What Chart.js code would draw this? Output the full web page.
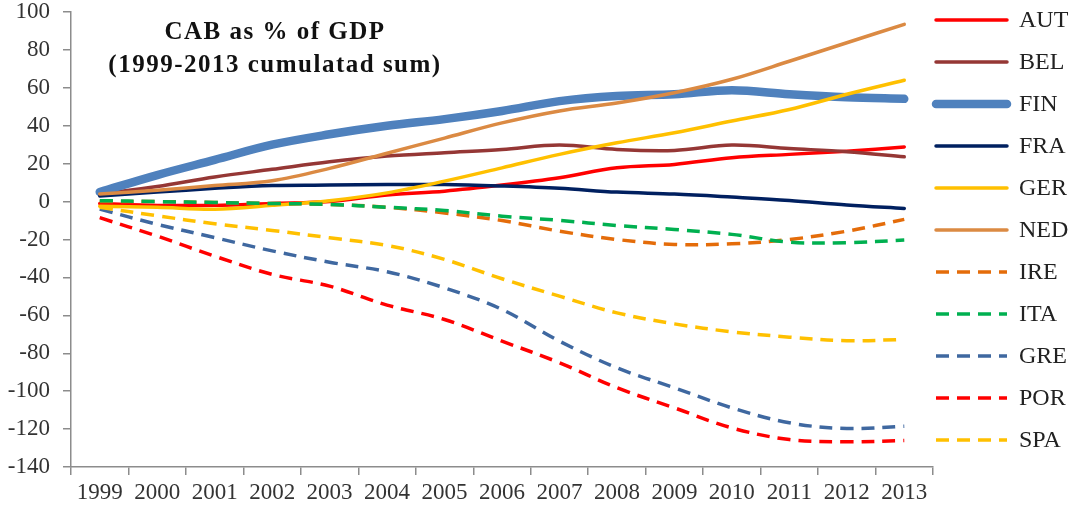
<!DOCTYPE html>
<html>
<head>
<meta charset="utf-8">
<script src="https://cdn.jsdelivr.net/npm/chart.js@4.4.1/dist/chart.umd.min.js"></script>
<style>
  html, body { margin: 0; padding: 0; background: #fff; }
  #wrap { width: 1073px; height: 507px; }
</style>
</head>
<body>
<div id="wrap"><canvas id="cabChart" width="1073" height="507"></canvas></div>
<script>
// years on the x axis
const years = ['1999', '2000', '2001', '2002', '2003', '2004', '2005', '2006', '2007', '2008', '2009', '2010', '2011', '2012', '2013'];

// cumulated current account balance, % of GDP
const aut = [-1, -2, -2, -1, 0, 3.5, 5.5, 8.7, 12.6, 17.8, 19.6, 23.1, 24.9, 26.6, 28.8];
const bel = [4, 8, 13, 17, 21, 24, 25.8, 27.5, 29.8, 27.5, 27, 29.8, 28, 26.3, 23.6];
const fin = [5, 14, 22, 30, 35.5, 40, 43.5, 47.8, 53, 55.7, 56.6, 58.7, 56.6, 55, 54.2];
const fra = [3, 5, 7, 8.5, 8.7, 9, 9, 8.2, 7, 5, 4, 2.4, 0.6, -1.8, -3.6];
const ger = [-2.5, -3, -4, -2, 0.5, 4.6, 10.8, 17.8, 24.9, 31, 36.3, 42.5, 48.6, 56.6, 64];
const ned = [4, 6, 8.5, 11, 17.5, 25.5, 33.5, 41.5, 47.8, 52, 57.4, 64.5, 74, 83.8, 93.5];
const ire = [0, 0, -0.5, -1, -1.5, -3, -6, -10, -15.6, -20, -22.6, -22.3, -20, -15.6, -9.4];
const ita = [0.5, 0, -0.5, -1, -1.5, -3, -4.7, -7.7, -9.9, -12.6, -14.7, -17.3, -21.4, -21.7, -20.3];
const gre = [-4, -12, -19, -26, -32, -37, -45.5, -56.9, -73.6, -87.7, -98.2, -108.8, -116.7, -119.7, -118.5];
const por = [-8.5, -18.2, -28.8, -38.4, -44.6, -54.6, -62.2, -73.6, -85, -98.2, -108.8, -119.4, -125.5, -126.7, -126];
const spa = [-3, -7.5, -11.7, -15.2, -19.1, -23.1, -30.5, -40.7, -49.9, -58.7, -64.5, -68.7, -71.5, -73.4, -72.7];

// y axis range
const yMin = -140;
const yMax = 100;
const yStep = 20;

const titleLines = ['CAB as % of GDP', '(1999-2013 cumulatad sum)'];

const serif = '"Liberation Serif", "Times New Roman", serif';
const dash = [13, 8];

function line(label, data, color, width, dashed) {
  return {
    label: label,
    data: data,
    borderColor: color,
    backgroundColor: color,
    borderWidth: width,
    borderDash: dashed ? dash : [],
    borderCapStyle: dashed ? 'butt' : 'round',
    fill: false,
    pointRadius: 0,
    tension: 0.35
  };
}

const datasets = [
  line('AUT', aut, '#FF0000', 3.5, false),
  line('BEL', bel, '#953735', 3.5, false),
  line('FIN', fin, '#4F81BD', 8.5, false),
  line('FRA', fra, '#002060', 3.5, false),
  line('GER', ger, '#FFC000', 3.5, false),
  line('NED', ned, '#DB8A43', 3.5, false),
  line('IRE', ire, '#E46C0A', 3.5, true),
  line('ITA', ita, '#00B050', 3.5, true),
  line('GRE', gre, '#3F68A0', 3.5, true),
  line('POR', por, '#FF0000', 3.5, true),
  line('SPA', spa, '#FFC000', 3.5, true)
];
// excel paints later series on top
datasets.forEach((d, i) => { d.order = datasets.length - i; });

// legend down the right side + title inside the plot
const sideBits = {
  id: 'sideBits',
  afterDraw(chart) {
    const ctx = chart.ctx;
    const area = chart.chartArea;
    ctx.save();
    datasets.forEach((ds, i) => {
      const y = 20 + i * 42;
      const x0 = area.right + 3;
      ctx.beginPath();
      ctx.strokeStyle = ds.borderColor;
      ctx.lineWidth = ds.borderWidth;
      ctx.lineCap = ds.borderCapStyle;
      ctx.setLineDash(ds.borderDash);
      ctx.moveTo(x0, y);
      ctx.lineTo(x0 + 71, y);
      ctx.stroke();
      ctx.setLineDash([]);
      ctx.fillStyle = '#222';
      ctx.font = '24px ' + serif;
      ctx.textAlign = 'left';
      ctx.textBaseline = 'middle';
      ctx.fillText(ds.label, x0 + 83, y + 1);
    });

    ctx.fillStyle = '#111';
    ctx.font = 'bold 25px ' + serif;
    ctx.textAlign = 'center';
    ctx.textBaseline = 'middle';
    try { ctx.letterSpacing = '1.5px'; } catch (e) {}
    ctx.fillText(titleLines[0], area.left + 204, 33);
    ctx.fillText(titleLines[1], area.left + 204, 66);
    ctx.restore();
  }
};

const tickFont = { family: serif, size: 23 };

new Chart(document.getElementById('cabChart').getContext('2d'), {
  type: 'line',
  data: { labels: years, datasets: datasets },
  options: {
    responsive: false,
    animation: false,
    layout: { padding: { left: 0, right: 140, top: 12, bottom: 0 } },
    plugins: {
      legend: { display: false },
      title: { display: false },
      tooltip: { enabled: false }
    },
    scales: {
      x: {
        offset: true,
        grid: { offset: true, drawOnChartArea: false, tickLength: 8, color: '#8c8c8c', lineWidth: 1.5 },
        border: { color: '#8c8c8c', width: 1.5 },
        ticks: { font: tickFont, color: '#333', padding: 4, maxRotation: 0, autoSkip: false },
        afterFit(s) { s.height = 40; s.paddingLeft = 0; s.paddingRight = 0; }
      },
      y: {
        min: yMin,
        max: yMax,
        grid: { drawOnChartArea: false, tickLength: 8, color: '#8c8c8c', lineWidth: 1.5 },
        border: { color: '#8c8c8c', width: 1.5 },
        ticks: { stepSize: yStep, font: tickFont, color: '#333', padding: 13 },
        afterFit(s) { s.width = 71; s.paddingTop = 0; s.paddingBottom = 0; }
      }
    }
  },
  plugins: [sideBits]
});
</script>
</body>
</html>
